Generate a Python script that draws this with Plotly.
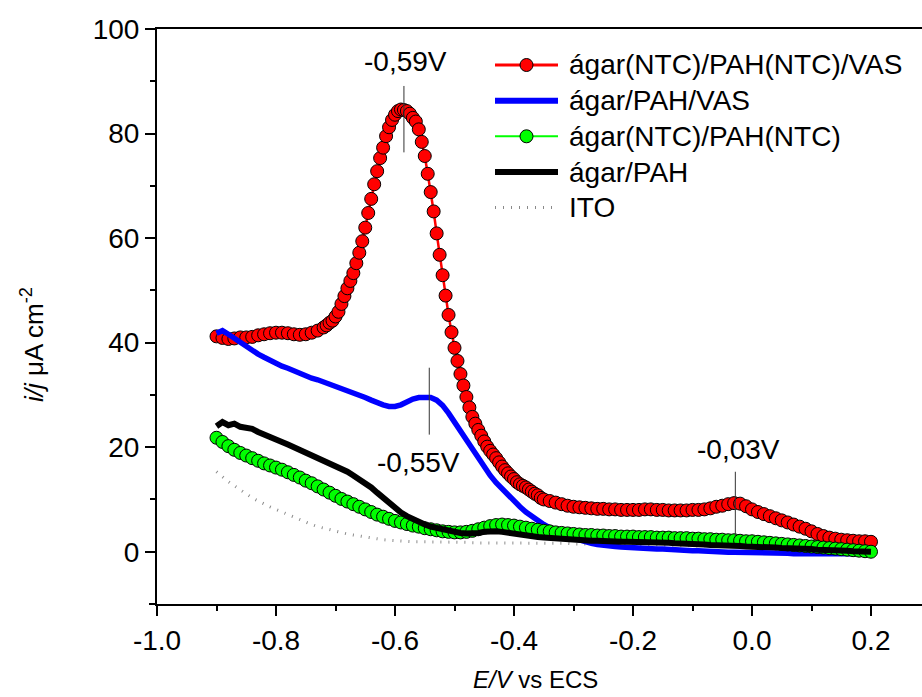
import numpy as np
import plotly.graph_objects as go

# ---------------- data ----------------
series_names = ["ágar(NTC)/PAH(NTC)/VAS", "ágar/PAH/VAS", "ágar(NTC)/PAH(NTC)",
                "ágar/PAH", "ITO"]

# potential scan grids (V vs ECS)
red_a_start, red_a_step = -0.90, 0.01
red_a = [41.2, 40.9, 40.7, 40.8, 41.0, 41.0, 41.1, 41.4, 41.6, 41.8, 41.9, 41.9,
         41.8, 41.6, 41.5, 41.6, 41.9, 42.3, 42.9]
red_b_start, red_b_step = -0.715, 0.005
red_b = [43.3, 43.8, 44.2, 45.0, 45.9, 47.4, 48.9, 50.4, 51.8, 53.3, 55.2, 57.2,
         59.4, 62.0, 64.8, 67.5, 70.3, 72.8, 75.3, 77.3, 79.5, 81.2, 82.6, 83.6,
         84.3, 84.6, 84.5, 84.3, 83.8, 83.0, 82.3, 80.8, 78.4, 75.7, 72.3, 68.8,
         65.1, 60.9, 56.8, 52.9, 49.0, 45.3, 42.0, 39.0, 36.5, 34.0, 31.8, 29.6,
         27.6, 25.8, 24.5, 23.3, 22.2, 21.1, 20.1, 19.3, 18.6, 17.9, 17.1, 16.3,
         15.6, 15.0, 14.4, 13.9, 13.3, 12.9, 12.6, 12.3, 11.9, 11.5, 11.1, 10.8,
         10.3]
red_c_start, red_c_step = -0.35, 0.01
red_c = [10.0, 9.7, 9.4, 9.1, 8.8, 8.6, 8.5, 8.4, 8.3, 8.2, 8.2, 8.1, 8.1, 8.0,
         8.0, 8.0, 8.0, 8.1, 8.1, 8.0, 8.0, 7.9, 7.9, 7.9, 7.9, 8.0, 8.0, 8.1,
         8.3, 8.6, 8.8, 9.1, 9.3, 9.2, 8.7, 8.1, 7.6, 7.2, 6.8, 6.4, 6.0, 5.6,
         5.2, 4.8, 4.4, 3.9, 3.4, 3.0, 2.7, 2.5, 2.3, 2.2, 2.1, 2.0, 2.0, 1.9]

grid_start, grid_step = -0.90, 0.01
blue = [41.8, 42.3, 41.6, 40.8, 40.1, 39.3, 38.5, 37.8, 37.2, 36.6, 36.0, 35.5,
        35.1, 34.6, 34.1, 33.6, 33.2, 32.9, 32.5, 32.0, 31.6, 31.2, 30.8, 30.4,
        30.0, 29.5, 29.0, 28.5, 28.1, 27.8, 27.8, 28.1, 28.7, 29.2, 29.5, 29.6,
        29.5, 29.0, 28.0, 26.5, 24.8, 23.0, 21.1, 19.3, 17.6, 16.0, 14.6, 13.2,
        12.0, 10.8, 9.6, 8.6, 7.6, 6.7, 5.9, 5.2, 4.6, 4.0, 3.5, 3.0, 2.6, 2.2,
        1.9, 1.6, 1.4, 1.2, 1.1, 1.0, 0.9, 0.8, 0.7, 0.7, 0.6, 0.6, 0.5, 0.5,
        0.4, 0.4, 0.3, 0.3, 0.2, 0.2, 0.1, 0.1, 0.0, 0.0, -0.1, -0.1, -0.1, -0.2,
        -0.2, -0.2, -0.2, -0.3, -0.3, -0.3, -0.3, -0.4, -0.4, -0.4, -0.4, -0.4,
        -0.4, -0.4, -0.4, -0.4, -0.4, -0.4, -0.4, -0.4, -0.4]
green = [21.8, 21.0, 20.2, 19.5, 18.9, 18.4, 17.9, 17.4, 16.9, 16.5, 16.1, 15.7,
         15.2, 14.7, 14.2, 13.6, 13.1, 12.5, 11.9, 11.3, 10.7, 10.1, 9.6, 9.1,
         8.6, 8.1, 7.6, 7.1, 6.7, 6.3, 5.9, 5.6, 5.3, 5.0, 4.8, 4.5, 4.3, 4.1,
         3.9, 3.8, 3.7, 3.7, 3.8, 4.0, 4.3, 4.6, 4.9, 5.1, 5.2, 5.1, 5.0, 4.8,
         4.6, 4.4, 4.2, 4.0, 3.9, 3.7, 3.6, 3.5, 3.4, 3.3, 3.2, 3.2, 3.1, 3.1,
         3.0, 3.0, 2.9, 2.9, 2.9, 2.8, 2.8, 2.8, 2.7, 2.7, 2.7, 2.6, 2.6, 2.6,
         2.5, 2.5, 2.4, 2.4, 2.3, 2.3, 2.2, 2.2, 2.1, 2.0, 2.0, 1.9, 1.8, 1.7,
         1.6, 1.5, 1.4, 1.3, 1.2, 1.1, 1.0, 0.9, 0.8, 0.7, 0.6, 0.5, 0.4, 0.3,
         0.2, 0.1, 0.0]
black = [24.0, 24.8, 24.2, 24.5, 23.9, 23.6, 23.5, 22.9, 22.5, 22.0, 21.5, 21.0,
         20.5, 20.0, 19.5, 19.0, 18.6, 18.1, 17.6, 17.1, 16.5, 15.9, 15.3, 14.6,
         13.9, 13.1, 12.3, 11.3, 10.3, 9.3, 8.3, 7.5, 6.8, 6.2, 5.7, 5.2, 4.8,
         4.5, 4.2, 4.0, 3.8, 3.6, 3.5, 3.5, 3.6, 3.8, 3.9, 3.9, 3.8, 3.6, 3.4,
         3.2, 3.0, 2.9, 2.8, 2.7, 2.6, 2.5, 2.4, 2.3, 2.3, 2.2, 2.2, 2.1, 2.1,
         2.0, 2.0, 2.0, 1.9, 1.9, 1.9, 1.8, 1.8, 1.8, 1.7, 1.7, 1.7, 1.6, 1.6,
         1.5, 1.5, 1.4, 1.4, 1.3, 1.3, 1.2, 1.2, 1.1, 1.1, 1.0, 1.0, 0.9, 0.9,
         0.8, 0.8, 0.7, 0.7, 0.6, 0.6, 0.5, 0.5, 0.4, 0.4, 0.3, 0.3, 0.2, 0.2,
         0.1, 0.1, 0.0, 0.0]
ito = [15.3, 14.3, 13.4, 12.6, 11.8, 11.0, 10.3, 9.7, 9.1, 8.6, 8.1, 7.6, 7.1,
       6.6, 6.1, 5.6, 5.2, 4.8, 4.5, 4.2, 3.9, 3.6, 3.4, 3.2, 3.0, 2.8, 2.6,
       2.4, 2.3, 2.2, 2.1, 2.0, 2.0, 1.9, 1.9, 1.9, 1.8, 1.8, 1.8, 1.8, 1.8,
       1.8, 1.8, 1.7, 1.7, 1.7, 1.7, 1.7, 1.7, 1.7, 1.7, 1.7, 1.7, 1.7, 1.6,
       1.6, 1.6, 1.6, 1.6, 1.6, 1.5, 1.5, 1.5, 1.5, 1.5, 1.4, 1.4, 1.4, 1.4,
       1.4, 1.3, 1.3, 1.3, 1.3, 1.3, 1.2, 1.2, 1.2, 1.2, 1.2, 1.1, 1.1, 1.1,
       1.1, 1.1, 1.0, 1.0, 1.0, 1.0, 1.0, 0.9, 0.9, 0.9, 0.9, 0.9, 0.8, 0.8,
       0.8, 0.8, 0.8, 0.7, 0.7, 0.7, 0.7, 0.7, 0.6, 0.6, 0.6, 0.6, 0.6, 0.6]

x_tick_vals = [-1.0, -0.8, -0.6, -0.4, -0.2, 0.0, 0.2]
x_tick_text = ["-1.0", "-0.8", "-0.6", "-0.4", "-0.2", "0.0", "0.2"]
x_minor_vals = [-0.9, -0.7, -0.5, -0.3, -0.1, 0.1]
y_tick_vals = [0, 20, 40, 60, 80, 100]
y_tick_text = ["0", "20", "40", "60", "80", "100"]
y_minor_vals = [-10, 10, 30, 50, 70, 90]

peak_labels = ["-0,59V", "-0,55V", "-0,03V"]
peak_x = [-0.585, -0.5424, -0.028]
peak_line_y = [(76.4, 89.1), (22.4, 35.2), (2.9, 15.3)]
peak_text_pos = [(-0.583, 93.7), (-0.560, 17.0), (-0.0235, 19.5)]


def grid(start, step, n):
    return np.round(start + step * np.arange(n), 4)


red_x = np.concatenate([grid(red_a_start, red_a_step, len(red_a)),
                        grid(red_b_start, red_b_step, len(red_b)),
                        grid(red_c_start, red_c_step, len(red_c))])
red_y = red_a + red_b + red_c
gx = grid(grid_start, grid_step, len(blue))

FONT = "Liberation Sans, Arial, sans-serif"
RED, BLUE, GREEN, BLACK, GRAY = "#ff0000", "#0000ff", "#00ff00", "#000000", "#8a8a8a"

fig = go.Figure()
fig.add_trace(go.Scatter(x=gx, y=ito, mode="lines", name=series_names[4],
                         line=dict(color=GRAY, width=3, dash="1px,7px")))
fig.add_trace(go.Scatter(x=red_x, y=red_y, mode="lines+markers", name=series_names[0],
                         line=dict(color=RED, width=2.5),
                         marker=dict(size=13, color=RED, line=dict(color="#000", width=1))))
fig.add_trace(go.Scatter(x=gx, y=blue, mode="lines", name=series_names[1],
                         line=dict(color=BLUE, width=5.5)))
fig.add_trace(go.Scatter(x=grid(grid_start, grid_step, len(green)), y=green,
                         mode="lines+markers", name=series_names[2],
                         line=dict(color=GREEN, width=1.5),
                         marker=dict(size=13, color=GREEN, line=dict(color="#000", width=1))))
fig.add_trace(go.Scatter(x=grid(grid_start, grid_step, len(black)), y=black,
                         mode="lines", name=series_names[3],
                         line=dict(color=BLACK, width=6)))

# plot-area geometry (pixels) used to place paper-referenced decorations
L, R, T, B, W, H = 157, 922, 29, 604, 922, 697
def px(xp):
    return (xp - L) / (R - L)
def py(yp):
    return (B - yp) / (B - T)

shapes = []
annotations = []
# peak markers
for lab, xv, (y0, y1), (tx, ty) in zip(peak_labels, peak_x, peak_line_y, peak_text_pos):
    shapes.append(dict(type="line", xref="x", yref="y", x0=xv, x1=xv, y0=y0, y1=y1,
                       line=dict(color="#333", width=1)))
    annotations.append(dict(x=tx, y=ty, xref="x", yref="y", text=lab, showarrow=False,
                            font=dict(family=FONT, size=28, color="#000"),
                            xanchor="center", yanchor="middle"))

# axis-line overhang to the left of the y axis (bottom and top)
for yy in (0, 1):
    shapes.append(dict(type="line", xref="paper", yref="paper", x0=px(149), x1=0,
                       y0=yy, y1=yy, line=dict(color="#000", width=2)))

# custom legend
rows = [65, 100.7, 136.3, 172, 207.5]
leg_styles = [
    dict(color=RED, width=3, dash="solid", marker=RED),
    dict(color=BLUE, width=6, dash="solid", marker=None),
    dict(color=GREEN, width=2, dash="solid", marker=GREEN),
    dict(color=BLACK, width=6, dash="solid", marker=None),
    dict(color=GRAY, width=3, dash="1px,7px", marker=None),
]
for name, row, st in zip(series_names, rows, leg_styles):
    shapes.append(dict(type="line", xref="paper", yref="paper", x0=px(495), x1=px(558),
                       y0=py(row), y1=py(row),
                       line=dict(color=st["color"], width=st["width"], dash=st["dash"])))
    if st["marker"]:
        shapes.append(dict(type="circle", xref="paper", yref="paper",
                           xsizemode="pixel", ysizemode="pixel",
                           xanchor=px(526.5), yanchor=py(row),
                           x0=-6.5, x1=6.5, y0=-6.5, y1=6.5,
                           fillcolor=st["marker"], line=dict(color="#000", width=1)))
    annotations.append(dict(x=px(567), y=py(row), xref="paper", yref="paper", text=name,
                            showarrow=False, xanchor="left", yanchor="middle",
                            font=dict(family=FONT, size=28, color="#000")))

# axis titles
annotations.append(dict(x=px(535), y=py(679), xref="paper", yref="paper",
                        text="<i>E/V</i> vs ECS", showarrow=False,
                        xanchor="center", yanchor="middle",
                        font=dict(family=FONT, size=24, color="#000")))
annotations.append(dict(x=px(32), y=py(345), xref="paper", yref="paper",
                        text="<i>i/j</i> μA cm<sup>-2</sup>", showarrow=False,
                        textangle=-90, xanchor="center", yanchor="middle",
                        font=dict(family=FONT, size=26, color="#000")))

x_range = [-1.0, -1.0 + (R - L) / 595.0]

fig.update_layout(
    width=W, height=H,
    margin=dict(l=L, r=W - R, t=T, b=H - B, pad=0),
    paper_bgcolor="white", plot_bgcolor="white",
    showlegend=False,
    shapes=shapes, annotations=annotations,
    font=dict(family=FONT, size=28, color="#000"),
    xaxis=dict(range=x_range, tickmode="array", tickvals=x_tick_vals, ticktext=x_tick_text,
               ticks="outside", ticklen=10, tickwidth=2, tickcolor="#000",
               showline=True, linewidth=2, linecolor="#000", mirror=True,
               showgrid=False, zeroline=False,
               tickfont=dict(family=FONT, size=28, color="#000"),
               minor=dict(tickmode="array", tickvals=x_minor_vals, ticks="outside",
                          ticklen=5, tickwidth=2, tickcolor="#000", showgrid=False)),
    yaxis=dict(range=[-10, 100], tickmode="array", tickvals=y_tick_vals, ticktext=y_tick_text,
               ticks="outside", ticklen=10, tickwidth=2, tickcolor="#000",
               showline=True, linewidth=2, linecolor="#000", mirror=False,
               showgrid=False, zeroline=False,
               tickfont=dict(family=FONT, size=28, color="#000"),
               minor=dict(tickmode="array", tickvals=y_minor_vals, ticks="outside",
                          ticklen=5, tickwidth=2, tickcolor="#000", showgrid=False)),
)

fig.write_html("out.html")
